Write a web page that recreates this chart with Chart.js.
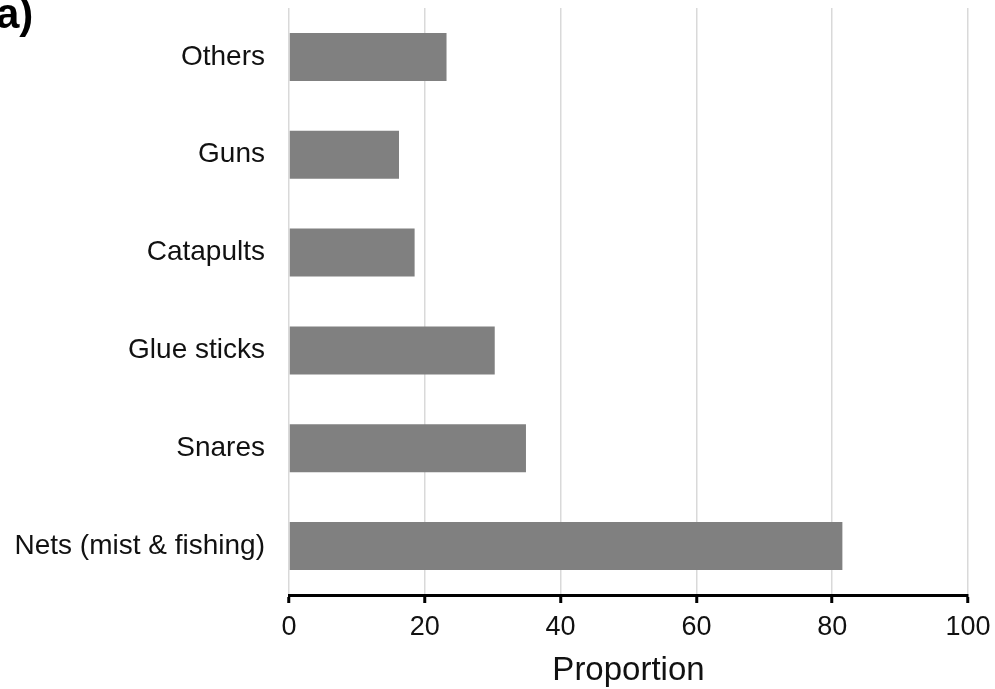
<!DOCTYPE html>
<html>
<head>
<meta charset="utf-8">
<script src="https://cdn.jsdelivr.net/npm/chart.js@4"></script>
<style>
  html, body { margin: 0; padding: 0; background: #ffffff; }
  #wrap { width: 995px; height: 689px; position: relative; }
</style>
</head>
<body>
<div id="wrap"><canvas id="c" width="995" height="689"></canvas></div>
<script>
// Hunting methods (top to bottom) and the proportion reporting each
const categories = ['Others', 'Guns', 'Catapults', 'Glue sticks', 'Snares', 'Nets (mist & fishing)'];
const proportions = [23.2, 16.2, 18.5, 30.3, 34.9, 81.5];
const xTicks = [0, 20, 40, 60, 80, 100];
const axisTitle = 'Proportion';
const panelLabel = 'a)';

const FONT = "Arial, 'Liberation Sans', Helvetica, sans-serif";

// Panel letter in the top-left corner
const panelLabelPlugin = {
  id: 'panelLabel',
  afterDraw(chart) {
    const ctx = chart.ctx;
    ctx.save();
    ctx.fillStyle = '#000';
    ctx.font = 'bold 42px ' + FONT;
    ctx.textBaseline = 'alphabetic';
    ctx.textAlign = 'left';
    ctx.fillText(panelLabel, -4, 28);
    ctx.restore();
  }
};

new Chart(document.getElementById('c'), {
  type: 'bar',
  data: {
    labels: categories,
    datasets: [{
      data: proportions,
      backgroundColor: '#808080',
      borderWidth: 0,
      categoryPercentage: 1.0,
      barPercentage: 0.49
    }]
  },
  options: {
    indexAxis: 'y',
    responsive: false,
    animation: false,
    devicePixelRatio: 1,
    layout: { padding: { top: 8, right: 27, left: 0, bottom: 0 } },
    plugins: {
      legend: { display: false },
      tooltip: { enabled: false }
    },
    scales: {
      x: {
        min: 0,
        max: 100,
        afterBuildTicks(scale) {
          scale.ticks = xTicks.map(v => ({ value: v }));
        },
        afterFit(scale) {
          scale.height = 94;
          scale.paddingLeft = 0;
          scale.paddingRight = 0;
        },
        grid: {
          color: '#d9d9d9',
          lineWidth: 1.5,
          drawTicks: true,
          tickLength: 8,
          tickWidth: 3,
          tickColor: '#000'
        },
        border: { display: true, color: '#000', width: 3 },
        ticks: {
          color: '#111',
          font: { family: FONT, size: 27 },
          padding: 8,
          maxRotation: 0
        },
        title: {
          display: true,
          text: axisTitle,
          color: '#111',
          font: { family: FONT, size: 33, lineHeight: 1.1 },
          padding: { top: 0, bottom: 0 }
        }
      },
      y: {
        afterFit(scale) {
          scale.width = 289;
          scale.paddingTop = 0;
          scale.paddingBottom = 0;
        },
        grid: { display: false, drawTicks: false },
        border: { display: false },
        ticks: {
          color: '#111',
          font: { family: FONT, size: 28 },
          padding: 24
        }
      }
    }
  },
  plugins: [panelLabelPlugin]
});
</script>
</body>
</html>
